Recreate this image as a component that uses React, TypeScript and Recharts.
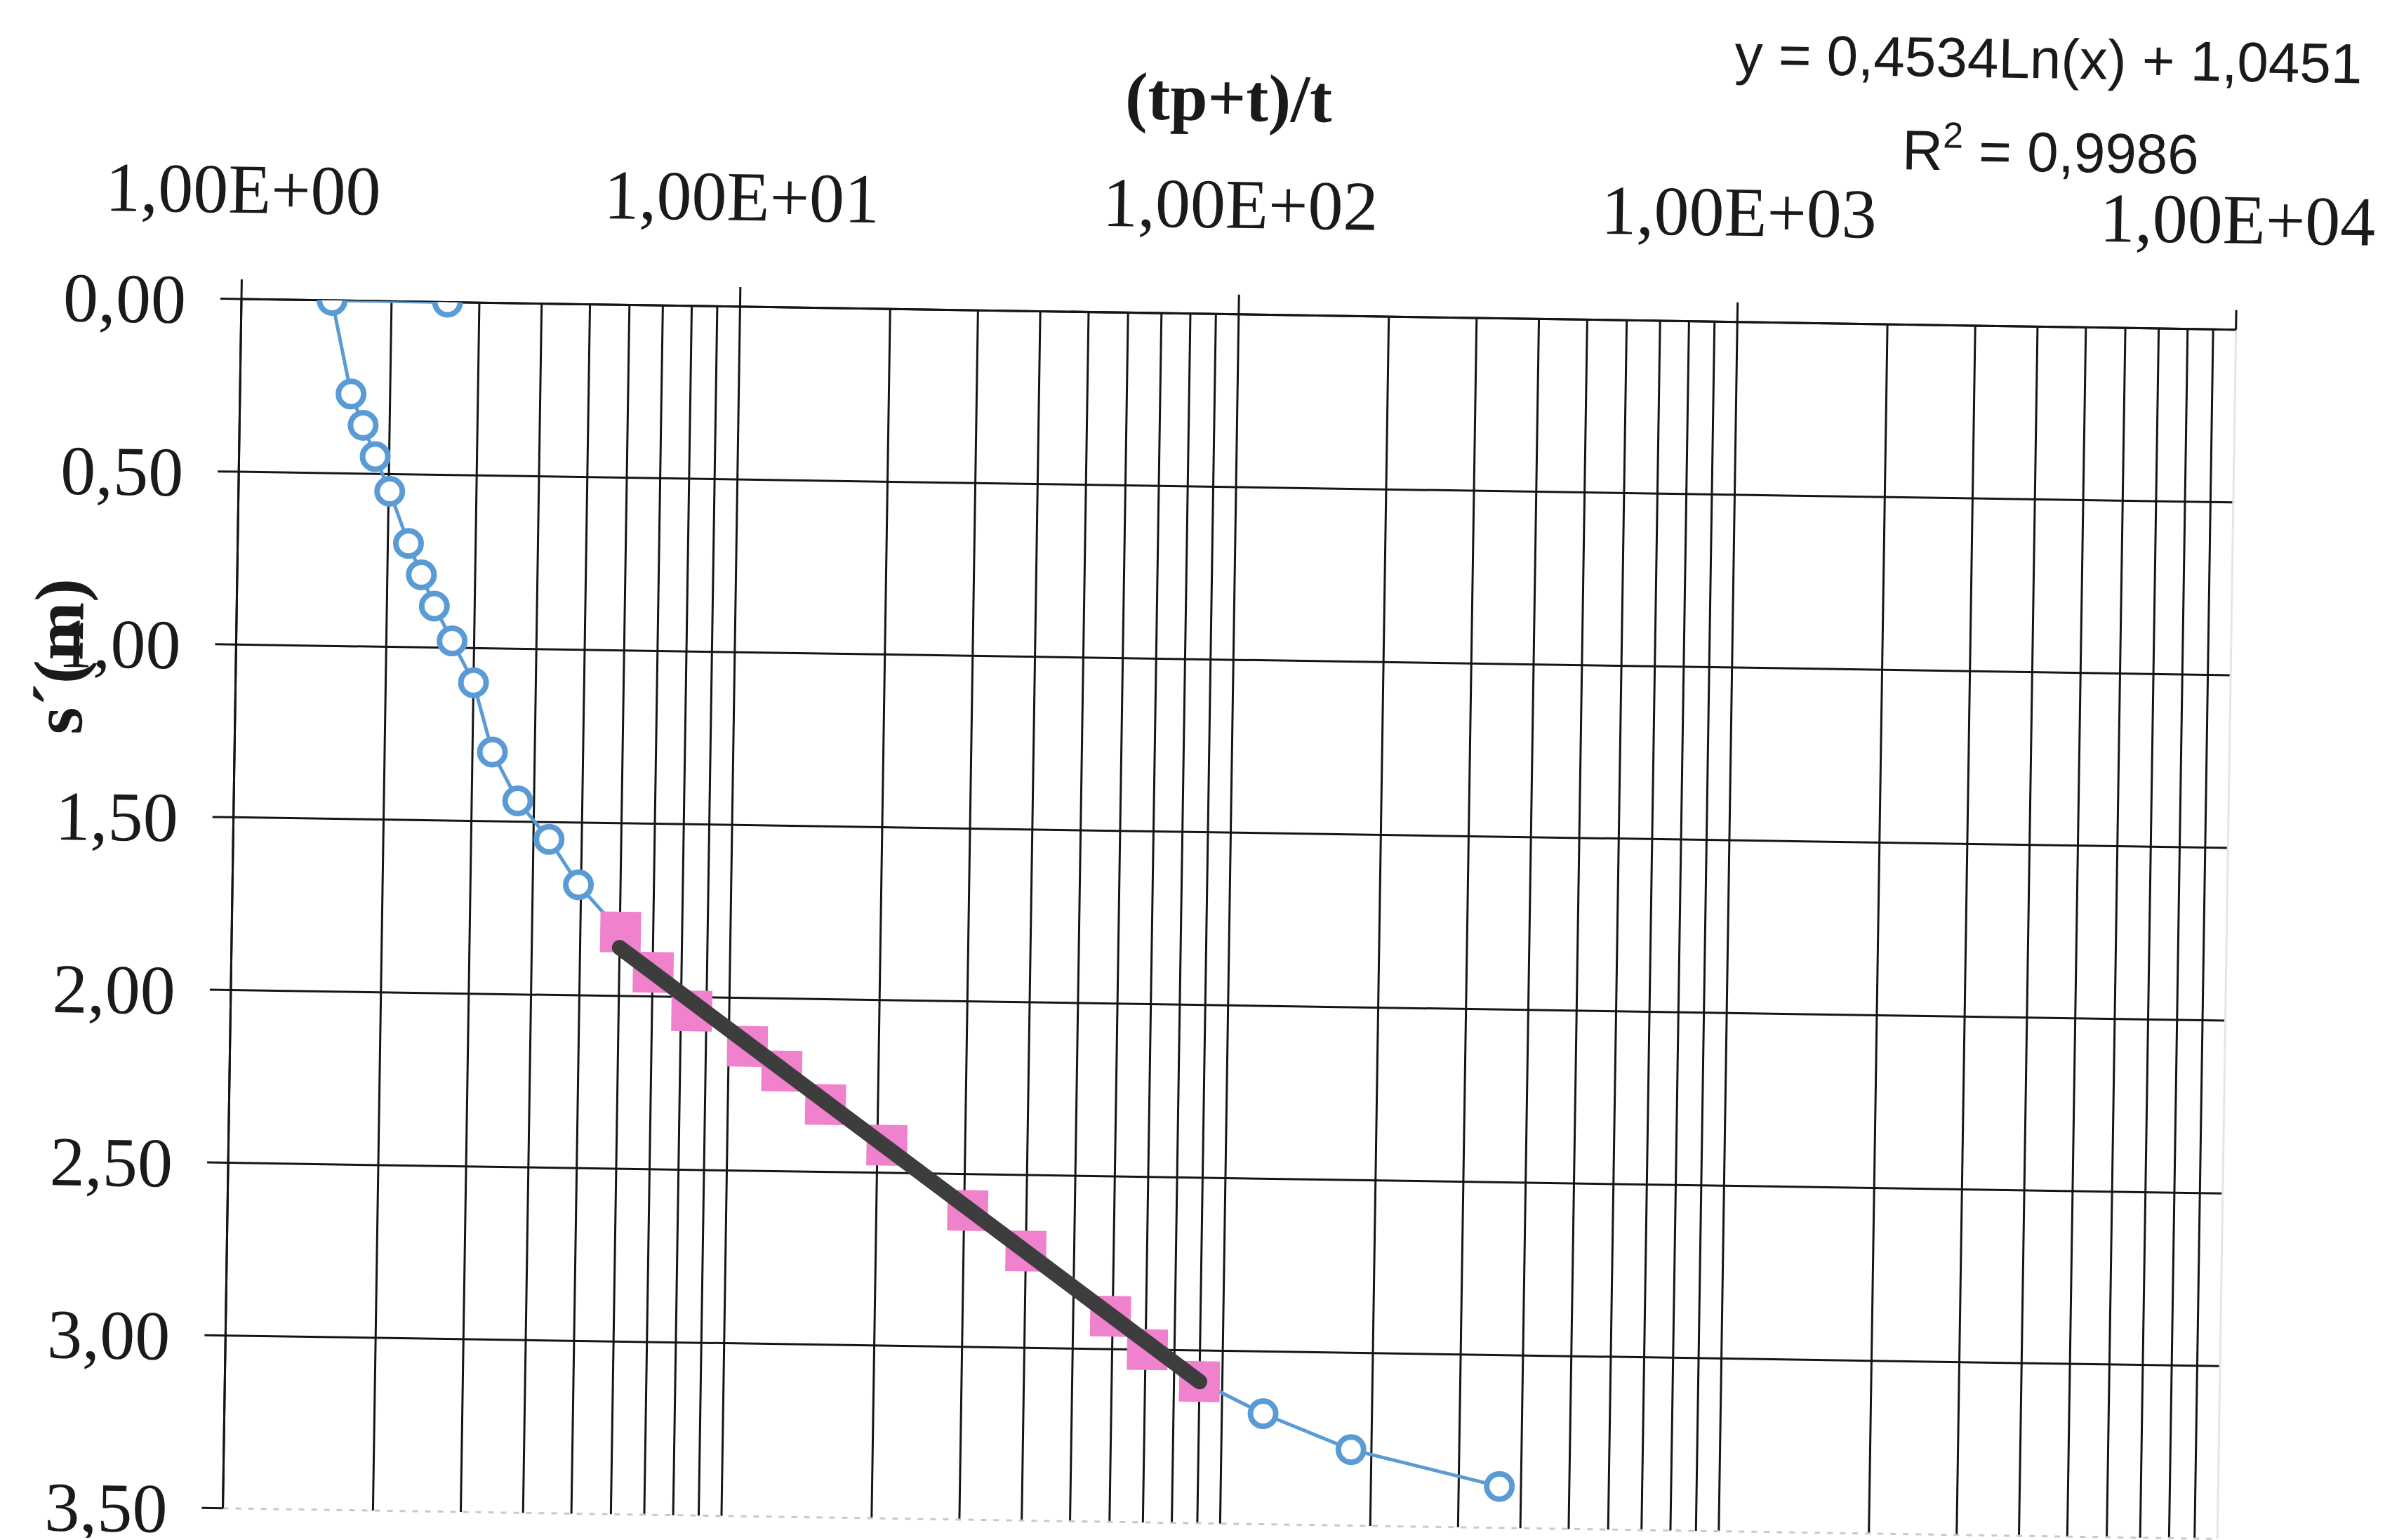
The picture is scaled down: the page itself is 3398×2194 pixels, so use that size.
import React from "react";
import {
    ComposedChart,
    Scatter,
    XAxis,
    YAxis,
    CartesianGrid,
    ReferenceLine,
    Label,
} from "recharts";

// (tp+t)/t and s', in the order the blue line joins them
const recoveryRatio = [2.59, 1.52, 1.67, 1.77, 1.875, 2.01, 2.2, 2.34, 2.49, 2.71, 3.0, 3.29, 3.71, 4.3, 4.94,
    6.02, 7.02, 8.41, 10.9, 12.8, 15.7, 20.9, 30.5, 40.0, 59.4, 70.6, 90.0, 121, 182, 362];
const residualDrawdown = [0, 0, 0.27, 0.36, 0.45, 0.55, 0.7, 0.79, 0.88, 0.98, 1.1, 1.3, 1.44, 1.55, 1.68,
    1.815, 1.93, 2.04, 2.14, 2.21, 2.305, 2.42, 2.605, 2.72, 2.905, 3.0, 3.09, 3.18, 3.28, 3.38];

// points used for the fit (pink squares)
const fitRatio = [6.02, 7.02, 8.41, 10.9, 12.8, 15.7, 20.9, 30.5, 40.0, 59.4, 70.6, 90.0];
const fitDrawdown = [1.815, 1.93, 2.04, 2.14, 2.21, 2.305, 2.42, 2.605, 2.72, 2.905, 3.0, 3.09];

// trendline ends
const trendRatio = [6.0, 90.0];
const trendDrawdown = [1.86, 3.09];

const xTicks = [1, 10, 100, 1000, 10000];
const yTicks = [0, 0.5, 1, 1.5, 2, 2.5, 3, 3.5];

const xTitle = "(tp+t)/t";
const yTitle = "s\u00b4(m)";
const equationText = "y = 0,4534Ln(x) + 1,0451";
const rSquaredText = " = 0,9986";

const BLUE = "#5B9BD5";
const PINK = "#F081CD";
const INK = "#1a1a1a";
const SERIF = "'Liberation Serif', 'Times New Roman', serif";
const SANS = "'Liberation Sans', Arial, sans-serif";

// the scanned sheet sits a little crooked, so the whole chart is turned to match
const SKEW_DEG = 0.88;

const zip = (xs: number[], ys: number[]) => xs.map((x, i) => ({ x, y: ys[i] }));

const blueData = zip(recoveryRatio, residualDrawdown);
const pinkData = zip(fitRatio, fitDrawdown);
const trendData = zip(trendRatio, trendDrawdown);

// log gridlines 1..9000
const gridX: number[] = [];
for (const d of [1, 10, 100, 1000]) {
    for (let m = 1; m <= 9; m++) gridX.push(m * d);
}

const fmtSci = (v: number) => {
    const e = Math.round(Math.log10(v));
    const m = v / Math.pow(10, e);
    return `${m.toFixed(2).replace(".", ",")}E+${String(e).padStart(2, "0")}`;
};
const fmtComma = (v: number) => v.toFixed(2).replace(".", ",");

function TopTitles(props: any) {
    const vb = props.viewBox;
    return (
        <g>
            <text x={vb.x + vb.width / 2 - 19} y={150} textAnchor="middle"
                fontFamily={SERIF} fontWeight="bold" fontSize={96} fill={INK}>
                {xTitle}
            </text>
            <text x={2913} y={72} textAnchor="middle" fontFamily={SANS} fontSize={80} fill={INK}>
                {equationText}
            </text>
            <text x={2918} y={205} textAnchor="middle" fontFamily={SANS} fontSize={80} fill={INK}>
                R<tspan dy={-32} fontSize={52}>2</tspan><tspan dy={32}>{rSquaredText}</tspan>
            </text>
        </g>
    );
}

function SideTitle(props: any) {
    const vb = props.viewBox;
    const cx = vb.x + 92;
    const cy = vb.y + 513;
    return (
        <g>
            <rect x={cx - 50} y={cy - 112} width={100} height={224} fill="#fff" />
            <text x={cx} y={cy} transform={`rotate(-90, ${cx}, ${cy})`} textAnchor="middle"
                dominantBaseline="central" fontFamily={SERIF} fontWeight="bold" fontSize={100} fill={INK}>
                {yTitle}
            </text>
        </g>
    );
}

export default function App() {
    return (
        <div style={{ position: "fixed", left: 0, top: 0, width: 3398, height: 2194, overflow: "hidden", background: "#fff" }}>
            <div style={{ width: 3398, height: 2194, transform: `rotate(${SKEW_DEG}deg)`, transformOrigin: "344px 426px" }}>
                <ComposedChart width={3398} height={2194} margin={{ top: 0, right: 212, bottom: 45, left: 0 }}>
                    <CartesianGrid
                        verticalValues={gridX}
                        horizontalValues={[0, 0.5, 1, 1.5, 2, 2.5, 3]}
                        stroke="#151515"
                        strokeWidth={3}
                    />
                    <ReferenceLine y={3.5} stroke="#c9c9c9" strokeWidth={3} strokeDasharray="8 10" />
                    <ReferenceLine x={10000} stroke="#e6e6e6" strokeWidth={3} />
                    <XAxis
                        dataKey="x"
                        type="number"
                        scale="log"
                        domain={[1, 10000]}
                        ticks={xTicks}
                        interval={0}
                        allowDataOverflow
                        orientation="top"
                        height={426}
                        tickSize={28}
                        tickMargin={95}
                        tickFormatter={fmtSci}
                        tick={{ fontSize: 100, fontFamily: SERIF, fill: INK }}
                        tickLine={{ stroke: "#151515", strokeWidth: 3 }}
                        axisLine={{ stroke: "#151515", strokeWidth: 3 }}
                    >
                        <Label content={TopTitles} />
                    </XAxis>
                    <YAxis
                        dataKey="y"
                        type="number"
                        domain={[0, 3.5]}
                        ticks={yTicks}
                        interval={0}
                        reversed
                        allowDataOverflow
                        width={344}
                        tickSize={30}
                        tickMargin={49}
                        tickFormatter={fmtComma}
                        tick={{ fontSize: 100, fontFamily: SERIF, fill: INK }}
                        tickLine={{ stroke: "#151515", strokeWidth: 3 }}
                        axisLine={{ stroke: "#151515", strokeWidth: 3 }}
                    >
                        <Label content={SideTitle} />
                    </YAxis>
                    <Scatter
                        data={blueData}
                        line={{ stroke: BLUE, strokeWidth: 5 }}
                        lineType="joint"
                        isAnimationActive={false}
                        shape={(p: any) => (
                            <circle cx={p.cx} cy={p.cy} r={18} fill="#fff" stroke={BLUE} strokeWidth={8} />
                        )}
                    />
                    <Scatter
                        data={pinkData}
                        isAnimationActive={false}
                        shape={(p: any) => (
                            <rect x={p.cx - 29} y={p.cy - 29} width={58} height={58} fill={PINK} />
                        )}
                    />
                    <Scatter
                        data={trendData}
                        line={{ stroke: "#3d3d3d", strokeWidth: 22, strokeLinecap: "round" }}
                        lineType="joint"
                        isAnimationActive={false}
                        shape={() => <g />}
                    />
                </ComposedChart>
            </div>
        </div>
    );
}
